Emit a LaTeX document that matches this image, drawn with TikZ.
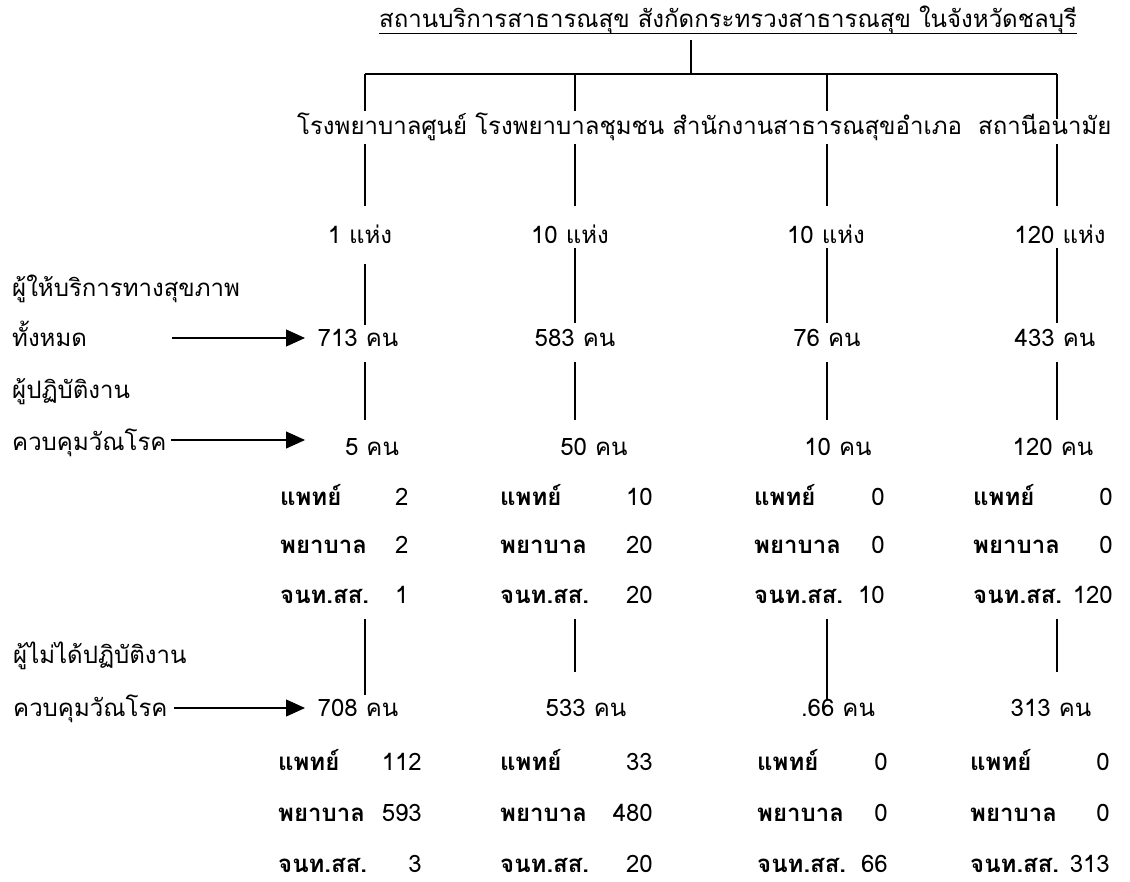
\documentclass[tikz,border=0pt]{standalone}
\usepackage{fontspec}
\setmainfont{Loma}[Script=Thai]
\usetikzlibrary{arrows.meta}
\begin{document}
\begin{tikzpicture}[x=1pt,y=-1pt,
  txt/.style={font=\fontsize{24}{28}\selectfont, inner sep=0pt},
  lab/.style={txt, font=\fontsize{24}{28}\selectfont\bfseries},
  ln/.style={line width=1.3pt},
  arr/.style={line width=1.1pt,-{Triangle[length=19pt,width=17pt]}}]
\useasboundingbox (0,0) rectangle (1130,881);
% title
\node[txt,anchor=base west] (title) at (379,27) {สถานบริการสาธารณสุข สังกัดกระทรวงสาธารณสุข ในจังหวัดชลบุรี};
\draw[line width=0.9pt] ([yshift=-6pt]title.base west) -- ([yshift=-6pt]title.base east);
\coordinate (tv) at (691,40);
\coordinate (tvb) at (691,74);
\coordinate (hl) at (365,74);
\coordinate (hr) at (1057,74);
\draw[ln] (tv) -- (tvb);
\draw[ln] (hl) -- (hr);
% header
\node[txt,anchor=base west] (hdr) at (297,134) {โรงพยาบาลศูนย์ โรงพยาบาลชุมชน สำนักงานสาธารณสุขอำเภอ\ \ สถานีอนามัย};
% column line coordinates
\foreach \i/\x in {1/365,2/575,3/827,4/1057} {
  \coordinate (a\i) at (\x,74);  \coordinate (b\i) at (\x,111);
  \coordinate (c\i) at (\x,144); \coordinate (d\i) at (\x,206);
  \coordinate (e\i) at (\x,248); \coordinate (f\i) at (\x,323);
  \coordinate (g\i) at (\x,362); \coordinate (h\i) at (\x,420);
  \coordinate (k\i) at (\x,619); \coordinate (m\i) at (\x,672);
}
\coordinate (b4) at (1057,119);
\coordinate (e1) at (365,264);
\coordinate (f1) at (365,325);
\coordinate (m1) at (365,695);
\coordinate (m3) at (827,699);
\foreach \i in {1,2,3,4} {
  \draw[ln] (a\i) -- (b\i);
  \draw[ln] (c\i) -- (d\i);
  \draw[ln] (e\i) -- (f\i);
  \draw[ln] (g\i) -- (h\i);
  \draw[ln] (k\i) -- (m\i);
}
% rows of counts
\node[txt,anchor=base] (s1) at (360,243) {1 แห่ง};
\node[txt,anchor=base] (s2) at (570,243) {10 แห่ง};
\node[txt,anchor=base] (s3) at (826,243) {10 แห่ง};
\node[txt,anchor=base] (s4) at (1060,243) {120 แห่ง};
\node[txt,anchor=base] (t1) at (358,346) {713 คน};
\node[txt,anchor=base] (t2) at (575,346) {583 คน};
\node[txt,anchor=base] (t3) at (827,346) {76 คน};
\node[txt,anchor=base] (t4) at (1055,346) {433 คน};
\node[txt,anchor=base] (u1) at (372,455) {5 คน};
\node[txt,anchor=base] (u2) at (594,455) {50 คน};
\node[txt,anchor=base] (u3) at (838,455) {10 คน};
\node[txt,anchor=base] (u4) at (1053,455) {120 คน};
\node[txt,anchor=base] (w1) at (358,716) {708 คน};
\node[txt,anchor=base] (w2) at (586,716) {533 คน};
\node[txt,anchor=base] (w3) at (838,716) {.66 คน};
\node[txt,anchor=base] (w4) at (1051,716) {313 คน};
% left labels
\node[txt,anchor=base west] (l1) at (12,296) {ผู้ให้บริการทางสุขภาพ};
\node[txt,anchor=base west] (l2) at (12,346) {ทั้งหมด};
\node[txt,anchor=base west] (l3) at (12,398) {ผู้ปฏิบัติงาน};
\node[txt,anchor=base west] (l4) at (12,450) {ควบคุมวัณโรค};
\node[txt,anchor=base west] (l5) at (13,663) {ผู้ไม่ได้ปฏิบัติงาน};
\node[txt,anchor=base west] (l6) at (13,716) {ควบคุมวัณโรค};
% arrows
\coordinate (as1) at (172,338); \coordinate (ae1) at (305,338);
\coordinate (as2) at (171,440); \coordinate (ae2) at (305,440);
\coordinate (as3) at (174,708); \coordinate (ae3) at (305,708);
\draw[arr] (as1) -- (ae1);
\draw[arr] (as2) -- (ae2);
\draw[arr] (as3) -- (ae3);
% upper tables
\foreach \c/\lx in {1/280, 2/500, 3/754, 4/973} {
  \node[lab,anchor=base west] (pa\c) at (\lx,505) {แพทย์};
  \node[lab,anchor=base west] (pb\c) at (\lx,553) {พยาบาล};
  \node[lab,anchor=base west] (pc\c) at (\lx,603) {จนท.สส.};
}
\node[txt,anchor=base west] (va1) at (395,505) {2};
\node[txt,anchor=base west] (vb1) at (395,553) {2};
\node[txt,anchor=base west] (vc1) at (395,603) {1};
\foreach \c/\vx/\va/\vb/\vc in {2/653/10/20/20, 3/885/0/0/10, 4/1113/0/0/120} {
  \node[txt,anchor=base east] (va\c) at (\vx,505) {\va};
  \node[txt,anchor=base east] (vb\c) at (\vx,553) {\vb};
  \node[txt,anchor=base east] (vc\c) at (\vx,603) {\vc};
}
% lower tables
\foreach \c/\lx/\vx/\va/\vb/\vc in {1/278/422/112/593/3, 2/500/653/33/480/20, 3/757/888/0/0/66, 4/970/1110/0/0/313} {
  \node[lab,anchor=base west] (qa\c) at (\lx,770) {แพทย์};
  \node[lab,anchor=base west] (qb\c) at (\lx,821) {พยาบาล};
  \node[lab,anchor=base west] (qc\c) at (\lx,872) {จนท.สส.};
  \node[txt,anchor=base east] (xa\c) at (\vx,770) {\va};
  \node[txt,anchor=base east] (xb\c) at (\vx,821) {\vb};
  \node[txt,anchor=base east] (xc\c) at (\vx,872) {\vc};
}
\end{tikzpicture}
\end{document}
